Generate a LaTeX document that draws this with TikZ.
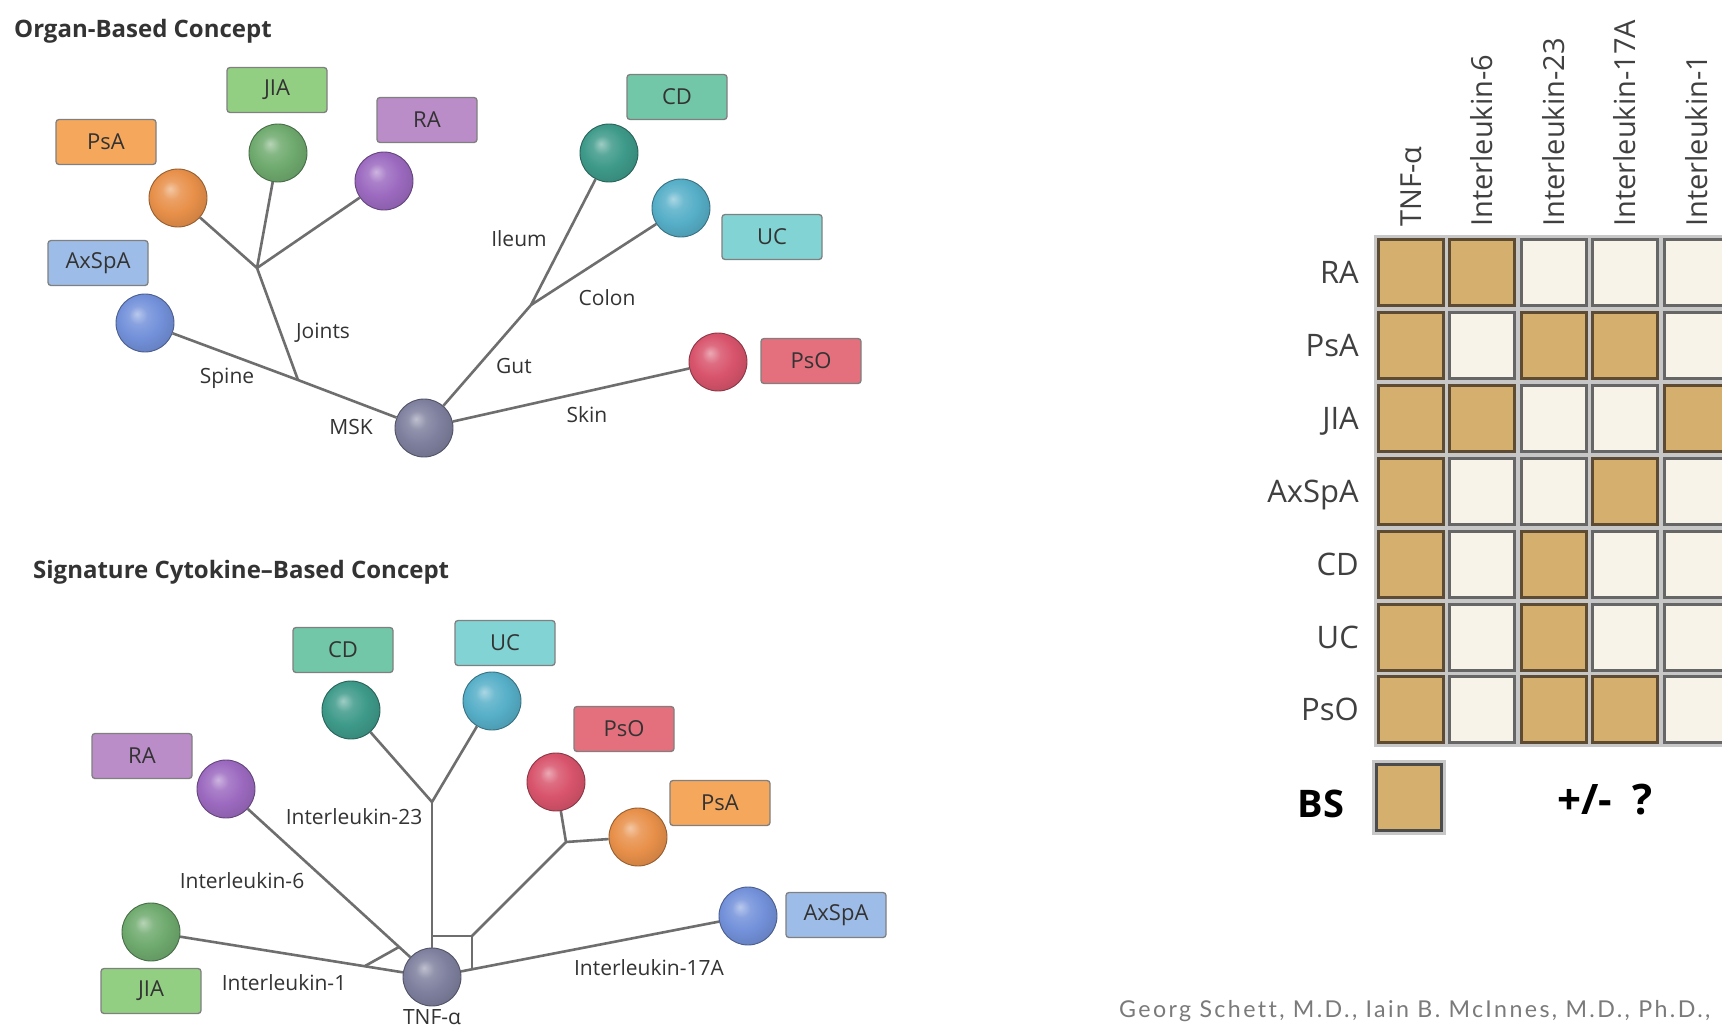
\documentclass[tikz,border=0pt]{standalone}
\usepackage{fontspec}
\setmainfont{Open Sans}
\newfontfamily\footfont[LetterSpace=10.3, Ligatures=NoCommon]{Lato}
\definecolor{lineC}{HTML}{6E6E6E}
\definecolor{txtC}{HTML}{333333}
\definecolor{bPsA}{HTML}{F5A85C}
\definecolor{bJIA}{HTML}{93CF83}
\definecolor{bRA}{HTML}{BA8CC8}
\definecolor{bCD}{HTML}{72C7A8}
\definecolor{bUC}{HTML}{82D3D3}
\definecolor{bPsO}{HTML}{E46F7D}
\definecolor{bAx}{HTML}{9DBDE8}
\definecolor{sPsA}{HTML}{E8904A}
\definecolor{sJIA}{HTML}{6FAA6E}
\definecolor{sRA}{HTML}{9C6AC0}
\definecolor{sCD}{HTML}{3E9A8A}
\definecolor{sUC}{HTML}{56AFC8}
\definecolor{sPsO}{HTML}{D8546C}
\definecolor{sAx}{HTML}{7391DA}
\definecolor{sGr}{HTML}{7E809E}
\definecolor{tan}{HTML}{D4AF6E}
\definecolor{cream}{HTML}{F7F3E9}
\definecolor{tanEdge}{HTML}{5E4B33}
\definecolor{creamEdge}{HTML}{666666}
\definecolor{footC}{HTML}{7A7A7A}
\makeatletter
\pgfdeclareradialshading[tikz@ball]{softball}{\pgfqpoint{-7bp}{8bp}}{%
  color(0bp)=(tikz@ball!50!white);
  color(8bp)=(tikz@ball!85!white);
  color(18bp)=(tikz@ball);
  color(30bp)=(tikz@ball!88!black);
  color(50bp)=(tikz@ball!78!black)}
\makeatother
\begin{document}
\begin{tikzpicture}[x=1pt,y=-1pt,
  lbox/.style={rectangle, rounded corners=3pt, draw=black!50, line width=1.3pt,
    minimum width=100pt, minimum height=45pt, inner sep=0pt, text=txtC,
    font=\fontsize{22}{26}\selectfont},
  sph/.style={circle, minimum size=58pt, inner sep=0pt, ball color=#1, shading=softball,
    draw=#1!65!black, line width=0.9pt},
  conn/.style={draw=lineC, line width=2.6pt},
  lbl/.style={text=txtC, font=\fontsize{21}{24}\selectfont, inner sep=0pt},
  ttl/.style={text=black!80, font=\fontsize{24}{28}\selectfont\bfseries, inner sep=0pt},
  cellbase/.style={rectangle, minimum width=65pt, minimum height=66pt, inner sep=0pt,
    line width=3pt, preaction={draw=black!22, line width=9pt}},
  cellon/.style={cellbase, fill=tan, draw=tanEdge},
  celloff/.style={cellbase, fill=cream, draw=creamEdge},
  rowlbl/.style={text=black!75, font=\fontsize{31}{36}\selectfont, inner sep=0pt},
  colhdr/.style={text=black!75, font=\fontsize{29}{34}\selectfont, inner sep=0pt}
]
\useasboundingbox (0,0) rectangle (1722,1028);
\clip (0,0) rectangle (1722,1028);
\fill[white] (0,0) rectangle (1722,1028);

% ---------------- Organ-based concept ----------------
\node[ttl, anchor=west] (t1) at (14,31) {Organ-Based Concept};

\node[lbox, fill=bPsA] (a-psa-box) at (106,142) {PsA};
\node[lbox, fill=bJIA] (a-jia-box) at (277,90) {JIA};
\node[lbox, fill=bRA] (a-ra-box) at (427,120) {RA};
\node[lbox, fill=bAx] (a-ax-box) at (98,263) {AxSpA};
\node[lbox, fill=bCD] (a-cd-box) at (677,97) {CD};
\node[lbox, fill=bUC] (a-uc-box) at (772,237) {UC};
\node[lbox, fill=bPsO] (a-pso-box) at (811,361) {PsO};

\coordinate (a-jj) at (257,268);
\coordinate (a-js) at (298,380);
\coordinate (a-jg) at (531,305);

\node[sph=sPsA] (a-psa) at (178,198) {};
\node[sph=sJIA] (a-jia) at (278,153) {};
\node[sph=sRA] (a-ra) at (384,181) {};
\node[sph=sAx] (a-ax) at (145,323) {};
\node[sph=sCD] (a-cd) at (609,153) {};
\node[sph=sUC] (a-uc) at (681,208) {};
\node[sph=sPsO] (a-pso) at (718,362) {};
\node[sph=sGr] (a-msk) at (424,428) {};

\draw[conn] (a-ax) -- (a-js) -- (a-msk);
\draw[conn] (a-js) -- (a-jj);
\draw[conn] (a-jj) -- (a-psa);
\draw[conn] (a-jj) -- (a-jia);
\draw[conn] (a-jj) -- (a-ra);
\draw[conn] (a-msk) -- (a-jg) -- (a-cd);
\draw[conn] (a-jg) -- (a-uc);
\draw[conn] (a-msk) -- (a-pso);

\node[lbl] (a-l-ileum) at (519,239) {Ileum};
\node[lbl] (a-l-colon) at (607,298) {Colon};
\node[lbl] (a-l-joints) at (323,333) {Joints};
\node[lbl] (a-l-gut) at (514,366) {Gut};
\node[lbl] (a-l-spine) at (227,378) {Spine};
\node[lbl] (a-l-msk) at (351,427) {MSK};
\node[lbl] (a-l-skin) at (587,415) {Skin};

% ---------------- Signature cytokine-based concept ----------------
\node[ttl, anchor=west] (t2) at (33,572) {Signature Cytokine–Based Concept};

\node[lbox, fill=bCD] (b-cd-box) at (343,650) {CD};
\node[lbox, fill=bUC] (b-uc-box) at (505,643) {UC};
\node[lbox, fill=bPsO] (b-pso-box) at (624,729) {PsO};
\node[lbox, fill=bPsA] (b-psa-box) at (720,803) {PsA};
\node[lbox, fill=bRA] (b-ra-box) at (142,756) {RA};
\node[lbox, fill=bAx] (b-ax-box) at (836,915) {AxSpA};
\node[lbox, fill=bJIA] (b-jia-box) at (151,991) {JIA};

\coordinate (b-j23) at (432,802);
\coordinate (b-jl) at (432,936);
\coordinate (b-jr) at (472,936);
\coordinate (b-jb) at (472,969);
\coordinate (b-jp) at (566,842);
\coordinate (b-k1) at (365,966);
\coordinate (b-k6) at (399,947);

\node[sph=sCD] (b-cd) at (351,710) {};
\node[sph=sUC] (b-uc) at (492,701) {};
\node[sph=sRA] (b-ra) at (226,789) {};
\node[sph=sPsO] (b-pso) at (556,782) {};
\node[sph=sPsA] (b-psa) at (638,837) {};
\node[sph=sJIA] (b-jia) at (151,932) {};
\node[sph=sAx] (b-ax) at (748,916) {};
\node[sph=sGr] (b-tnf) at (432,977) {};

\draw[conn] (b-tnf) -- (b-j23);
\draw[conn] (b-j23) -- (b-cd);
\draw[conn] (b-j23) -- (b-uc);
\draw[conn] (b-jl) -- (b-jr) -- (b-jb);
\draw[conn] (b-jr) -- (b-jp) -- (b-pso);
\draw[conn] (b-jp) -- (b-psa);
\draw[conn] (b-ra) -- (b-tnf);
\draw[conn] (b-jia) -- (b-tnf);
\draw[conn] (b-k1) -- (b-k6);
\draw[conn] (b-tnf) -- (b-ax);

\node[lbl] (b-l-23) at (354,817) {Interleukin-23};
\node[lbl] (b-l-6) at (242,881) {Interleukin-6};
\node[lbl] (b-l-1) at (284,983) {Interleukin-1};
\node[lbl] (b-l-17) at (649,968) {Interleukin-17A};
\node[lbl] (b-l-tnf) at (432,1017) {TNF-α};

% ---------------- Grid ----------------
\foreach \rowpat [count=\r from 0] in {{1,1,0,0,0},{1,0,1,1,0},{1,1,0,0,1},{1,0,0,1,0},{1,0,1,0,0},{1,0,1,0,0},{1,0,1,1,0}} {
  \foreach \v [count=\c from 0] in \rowpat {
    \pgfmathsetmacro\xx{1410.5+71.5*\c}
    \pgfmathsetmacro\yy{272.5+72.9*\r}
    \ifnum\v=1
      \node[cellon] (cell-\r-\c) at (\xx,\yy) {};
    \else
      \node[celloff] (cell-\r-\c) at (\xx,\yy) {};
    \fi
  }
}
\foreach \t [count=\r from 0] in {RA,PsA,JIA,AxSpA,CD,UC,PsO} {
  \node[rowlbl, anchor=base east] (rl-\r) at (1359,{283.5+72.9*\r}) {\t};
}
\foreach \t [count=\c from 0] in {TNF-α,Interleukin-6,Interleukin-23,Interleukin-17A,Interleukin-1} {
  \node[colhdr, rotate=90, anchor=base west] (ch-\c) at ({1421+71.5*\c},227) {\t};
}

\node[font=\fontsize{38}{44}\selectfont\bfseries, text=black, inner sep=0pt] (bs) at (1321,804) {BS};
\node[cellon, preaction={draw=black!22, line width=7pt}, draw=black!70] (bs-box) at (1408.5,797) {};
\node[font=\fontsize{42}{48}\selectfont\bfseries, text=black, inner sep=0pt] (pm) at (1605,800) {+/-\hspace{20pt}?};

\node[anchor=base west, text=footC, font=\footfont\fontsize{23.2}{28}\selectfont, inner sep=0pt] (foot) at (1119,1017) {Georg Schett, M.D., Iain B. McInnes, M.D., Ph.D.,};
\end{tikzpicture}
\end{document}
